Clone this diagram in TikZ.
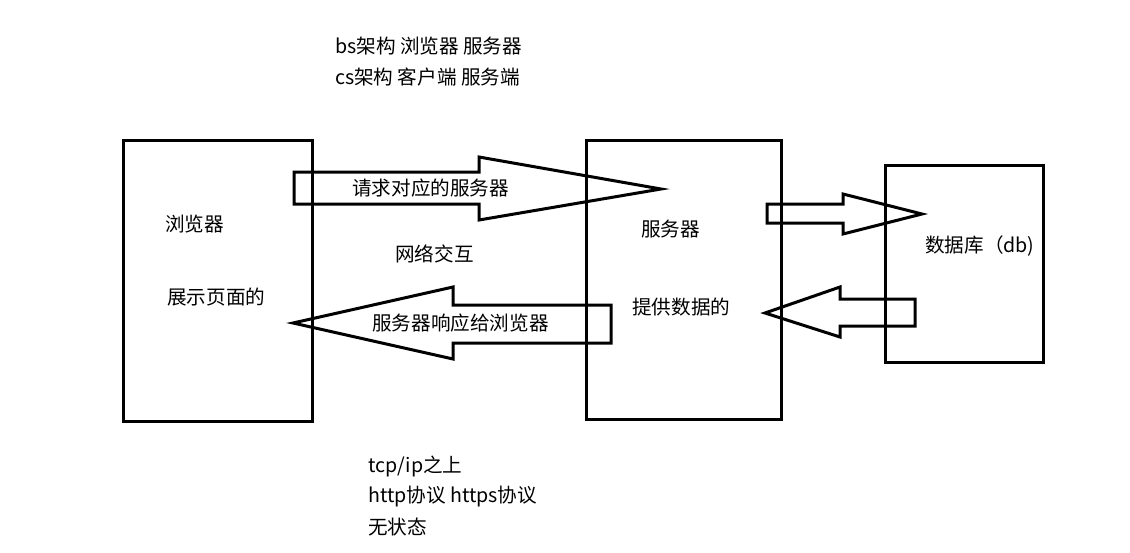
\documentclass[tikz,border=0pt]{standalone}
\usepackage{fontspec}
\setmainfont{Noto Sans CJK SC}
\begin{document}
\begin{tikzpicture}[x=1pt,y=-1pt,
  box/.style={draw=black,line width=3pt},
  blockarrow/.style={draw=black,line width=3pt,line join=miter},
  lbl/.style={inner sep=0pt,anchor=west,font=\fontsize{19.6}{23}\selectfont}]
\useasboundingbox (0,0) rectangle (1130,552);
\fill[white] (0,0) rectangle (1130,552);
% boxes
\draw[box] (123,140) rectangle (312,421);
\draw[box] (586,140) rectangle (781,419);
\draw[box] (885,165) rectangle (1043,362);
% arrow: request
\draw[blockarrow] (294,172) -- (479,172) -- (479,157) -- (661,189) -- (479,220) -- (479,204) -- (294,204) -- cycle;
% arrow: response
\draw[blockarrow] (611,305) -- (453,305) -- (453,287) -- (293,323) -- (453,359) -- (453,343) -- (611,343) -- cycle;
% arrow: server to db
\draw[blockarrow] (767,204) -- (843,204) -- (843,194) -- (922,214) -- (843,234) -- (843,223) -- (767,223) -- cycle;
% arrow: db to server
\draw[blockarrow] (915,299) -- (840,299) -- (840,287) -- (765,313) -- (840,337) -- (840,326) -- (915,326) -- cycle;
% texts
\node[lbl] (t1) at (335,46) {bs架构 浏览器 服务器};
\node[lbl] (t2) at (335,77) {cs架构 客户端 服务端};
\node[lbl] (req) at (352,188) {请求对应的服务器};
\node[lbl] (b1) at (165,224) {浏览器};
\node[lbl] (b2) at (167,297) {展示页面的};
\node[lbl] (net) at (395,254) {网络交互};
\node[lbl] (s1) at (641,229) {服务器};
\node[lbl] (s2) at (632,307) {提供数据的};
\node[lbl] (db) at (925,246) {数据库（db)};
\node[lbl] (resp) at (372,323) {服务器响应给浏览器};
\node[lbl] (n1) at (368,466) {tcp/ip之上};
\node[lbl] (n2) at (368,497) {http协议 https协议};
\node[lbl] (n3) at (368,527) {无状态};
\end{tikzpicture}
\end{document}
